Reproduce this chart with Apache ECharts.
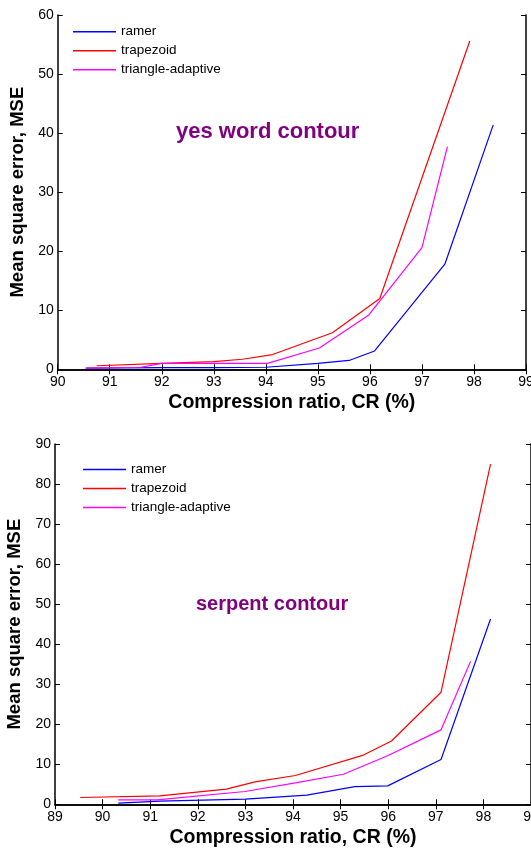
<!DOCTYPE html>
<html>
<head>
<meta charset="utf-8">
<title>MSE vs compression ratio</title>
<script src="https://cdn.jsdelivr.net/npm/echarts@6/dist/echarts.min.js"></script>
<style>
  html, body { margin: 0; padding: 0; background: #fff; }
  #chart { width: 531px; height: 848px; }
</style>
</head>
<body>
<div id="chart"></div>
<script>
// ---- yes word contour ----
const yesRamerCR = [90.55, 92.0, 93.0, 94.0, 95.0, 95.6, 96.09, 97.44, 98.37];
const yesRamerMSE = [0.2, 0.3, 0.3, 0.35, 1.0, 1.5, 3.1, 17.8, 41.4];
const yesTrapCR = [90.75, 92.0, 93.0, 93.55, 94.13, 95.28, 96.19, 97.92];
const yesTrapMSE = [0.6, 1.0, 1.3, 1.7, 2.5, 6.2, 12.0, 55.6];
const yesTriCR = [90.53, 91.6, 92.0, 94.03, 95.03, 95.98, 97.0, 97.49];
const yesTriMSE = [0.2, 0.35, 1.0, 1.0, 3.6, 9.2, 20.6, 37.7];

// ---- serpent contour ----
const serRamerCR = [90.33, 91.2, 93.0, 94.29, 95.3, 95.99, 97.11, 98.15];
const serRamerMSE = [0.3, 0.8, 1.3, 2.3, 4.4, 4.6, 11.2, 46.3];
const serTrapCR = [89.53, 91.2, 92.6, 93.2, 94.05, 95.48, 96.07, 97.11, 98.15];
const serTrapMSE = [1.7, 2.1, 3.8, 5.6, 7.2, 12.3, 15.8, 28.0, 85.0];
const serTriCR = [90.33, 91.14, 92.99, 94.08, 95.06, 96.0, 97.11, 97.73];
const serTriMSE = [1.1, 1.1, 3.2, 5.4, 7.5, 12.2, 18.6, 35.7];

const methodNames = ['ramer', 'trapezoid', 'triangle-adaptive'];
const methodColors = ['#0000ff', '#ff0000', '#ff00ff'];
const panelTitles = ['yes word contour', 'serpent contour'];
const xAxisName = 'Compression ratio, CR (%)';
const yAxisName = 'Mean square error, MSE';

const FONT = '"Liberation Sans", Arial, sans-serif';

function pairs(xs, ys) { return xs.map((x, i) => [x, ys[i]]); }

const panelData = [
  [pairs(yesRamerCR, yesRamerMSE), pairs(yesTrapCR, yesTrapMSE), pairs(yesTriCR, yesTriMSE)],
  [pairs(serRamerCR, serRamerMSE), pairs(serTrapCR, serTrapMSE), pairs(serTriCR, serTriMSE)]
];

// plot boxes; labels are allowed to run past the page edge
const grids = [
  { left: 57.7, top: 15, width: 468.3, height: 354.3, outerBoundsMode: 'none', containLabel: false },
  { left: 55, top: 444, width: 476, height: 360.3, outerBoundsMode: 'none', containLabel: false }
];
const xRanges = [[90, 99], [89, 99]];
const yRanges = [[0, 60], [0, 90]];

const axisLine = { show: true, lineStyle: { color: '#000', width: 1.5 } };
const tickIn = { show: true, inside: true, length: 5, lineStyle: { color: '#000', width: 1 } };
const labelStyle = { color: '#000', fontSize: 14, fontFamily: FONT };
const xNameStyle = { color: '#000', fontSize: 19.5, fontWeight: 'bold', fontFamily: FONT };
const yNameStyle = { color: '#000', fontSize: 18.5, fontWeight: 'bold', fontFamily: FONT };

const xAxes = [], yAxes = [], series = [];
grids.forEach((g, gi) => {
  const [x0, x1] = xRanges[gi];
  const [y0, y1] = yRanges[gi];
  xAxes.push({
    type: 'value', gridIndex: gi, min: x0, max: x1, interval: 1, position: 'bottom',
    axisLine, axisTick: tickIn, splitLine: { show: false },
    axisLabel: Object.assign({ margin: 6, hideOverlap: false }, labelStyle),
    name: xAxisName, nameLocation: 'middle', nameGap: 23, nameTextStyle: xNameStyle
  });
  xAxes.push({
    type: 'value', gridIndex: gi, min: x0, max: x1, interval: 1, position: 'top',
    axisLine, axisTick: tickIn, axisLabel: { show: false }, splitLine: { show: false }
  });
  yAxes.push({
    type: 'value', gridIndex: gi, min: y0, max: y1, interval: 10, position: 'left',
    axisLine, axisTick: tickIn, splitLine: { show: false },
    axisLabel: Object.assign({ margin: 4 }, labelStyle),
    name: yAxisName, nameLocation: 'middle', nameGap: 30, nameTextStyle: yNameStyle
  });
  yAxes.push({
    type: 'value', gridIndex: gi, min: y0, max: y1, interval: 10, position: 'right',
    axisLine, axisTick: tickIn, axisLabel: { show: false }, splitLine: { show: false }
  });
  panelData[gi].forEach((d, si) => {
    series.push({
      name: methodNames[si], type: 'line',
      xAxisIndex: gi * 2, yAxisIndex: gi * 2,
      data: d, symbol: 'none', animation: false,
      lineStyle: { color: methodColors[si], width: 1.2 },
      itemStyle: { color: methodColors[si] }
    });
  });
});

const legendBase = {
  orient: 'vertical', icon: 'rect', itemWidth: 43, itemHeight: 1.5,
  itemGap: 5, padding: 0, selectedMode: false,
  textStyle: { color: '#000', fontSize: 13.5, fontFamily: FONT, lineHeight: 14 },
  data: methodNames
};

const option = {
  backgroundColor: '#fff',
  animation: false,
  title: [
    { text: panelTitles[0], left: 171, top: 116,
      textStyle: { color: '#800080', fontSize: 22, fontWeight: 'bold', fontFamily: FONT } },
    { text: panelTitles[1], left: 191, top: 589,
      textStyle: { color: '#800080', fontSize: 20, fontWeight: 'bold', fontFamily: FONT } }
  ],
  legend: [
    Object.assign({}, legendBase, { left: 73, top: 24.7 }),
    Object.assign({}, legendBase, { left: 83, top: 462.5 })
  ],
  grid: grids,
  xAxis: xAxes,
  yAxis: yAxes,
  series
};

const chart = echarts.init(document.getElementById('chart'), null, { renderer: 'canvas' });
chart.setOption(option);
</script>
</body>
</html>
